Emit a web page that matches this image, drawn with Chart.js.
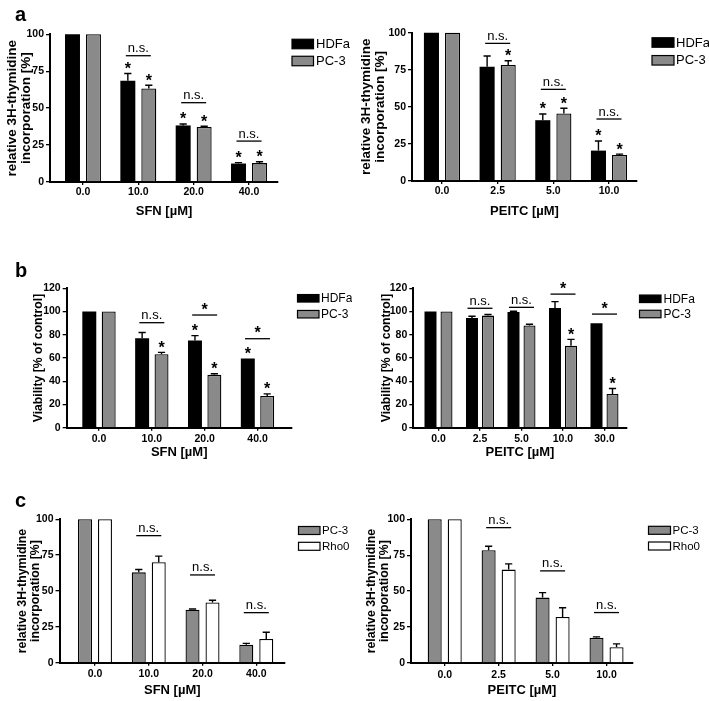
<!DOCTYPE html>
<html>
<head>
<meta charset="utf-8">
<script src="https://cdn.jsdelivr.net/npm/chart.js@4.4.1/dist/chart.umd.min.js"></script>
<style>
html,body{margin:0;padding:0;background:#fff;width:709px;height:701px;overflow:hidden;position:relative;}
.lbl{position:absolute;font:bold 20px "Liberation Sans",Arial,Helvetica,sans-serif;line-height:20px;color:#000;}
</style>
</head>
<body>
<script>
// ---------------- DATA ----------------
const sfnDoses = ['0.0', '10.0', '20.0', '40.0'];
const peitcDoses = ['0.0', '2.5', '5.0', '10.0'];
const peitcDosesViab = ['0.0', '2.5', '5.0', '10.0', '30.0'];

// panel a (left): SFN, 3H-thymidine incorporation
const aSfnHDFa = [100, 68.5, 38.3, 12.5];
const aSfnHDFaErr = [0, 5, 1, 0.6];
const aSfnPC3 = [100, 63.3, 37.2, 12.8];
const aSfnPC3Err = [0, 2.2, 0.5, 0.9];
const aSfnHDFaStar = [0, 1, 1, 1];
const aSfnPC3Star = [0, 1, 1, 1];
const aSfnSig = ['', 'n.s.', 'n.s.', 'n.s.'];
const aSfnSigLevel = [null, 85.5, 53.7, 27.7];

// panel a (right): PEITC, 3H-thymidine incorporation
const aPeitcHDFa = [100, 77, 41, 20.5];
const aPeitcHDFaErr = [0, 7.3, 4.2, 6.5];
const aPeitcPC3 = [100, 78.3, 45.5, 17.5];
const aPeitcPC3Err = [0, 2.8, 3.6, 0.6];
const aPeitcHDFaStar = [0, 0, 1, 1];
const aPeitcPC3Star = [0, 1, 1, 1];
const aPeitcSig = ['', 'n.s.', 'n.s.', 'n.s.'];
const aPeitcSigLevel = [null, 92.8, 61.8, 41.8];

// panel b (left): SFN, viability
const bSfnHDFa = [100, 77, 75, 59.5];
const bSfnHDFaErr = [0, 5, 4.3, 0];
const bSfnPC3 = [100, 63.3, 45.5, 27.3];
const bSfnPC3Err = [0, 1.5, 1, 1.8];
const bSfnHDFaStar = [0, 0, 1, 1];
const bSfnPC3Star = [0, 1, 1, 1];
const bSfnSig = ['', 'n.s.', '*', '*'];
const bSfnSigLevel = [null, 90.4, 97, 76.6];

// panel b (right): PEITC, viability
const bPeitcHDFa = [100, 94.5, 99.5, 103, 90];
const bPeitcHDFaErr = [0, 1.5, 0.7, 5.5, 0];
const bPeitcPC3 = [100, 96.5, 88, 70.5, 29];
const bPeitcPC3Err = [0, 1, 1, 5.5, 4.8];
const bPeitcHDFaStar = [0, 0, 0, 0, 0];
const bPeitcPC3Star = [0, 0, 0, 1, 1];
const bPeitcSig = ['', 'n.s.', 'n.s.', '*', '*'];
const bPeitcSigLevel = [null, 102.8, 103.6, 115, 97.8];

// panel c (left): SFN, PC-3 vs Rho0
const cSfnPC3 = [100, 63, 37, 12.5];
const cSfnPC3Err = [0, 2, 0.5, 1];
const cSfnRho0 = [100, 70, 42, 16.5];
const cSfnRho0Err = [0, 4.3, 1.5, 4.7];
const cSfnSig = ['', 'n.s.', 'n.s.', 'n.s.'];
const cSfnSigLevel = [null, 88.6, 61.2, 34.9];

// panel c (right): PEITC, PC-3 vs Rho0
const cPeitcPC3 = [100, 78.5, 45.5, 17.5];
const cPeitcPC3Err = [0, 2.7, 3.5, 0.7];
const cPeitcRho0 = [100, 65, 32, 11];
const cPeitcRho0Err = [0, 4, 6.5, 2.3];
const cPeitcSig = ['', 'n.s.', 'n.s.', 'n.s.'];
const cPeitcSigLevel = [null, 94.2, 64.1, 35.1];

const noStar = [0, 0, 0, 0, 0];

// ---------------- STYLE / LAYOUT ----------------
const FONT = '"Liberation Sans", Arial, Helvetica, sans-serif';
const BLACK = '#000000', GREY = '#8a8a8a', WHITE = '#ffffff';
const thymTitle = ['relative 3H-thymidine', 'incorporation [%]'];
const viabTitle = 'Viability [% of control]';
const TICK = 10.5;

Chart.defaults.font.family = FONT;
Chart.defaults.color = '#000';

function centeredText(ctx, txt, x, cyc) {
  const m = ctx.measureText(txt);
  const base = cyc + (m.actualBoundingBoxAscent - m.actualBoundingBoxDescent) / 2;
  ctx.textAlign = 'center';
  ctx.textBaseline = 'alphabetic';
  ctx.fillText(txt, x, base);
}

const annotPlugin = {
  id: 'annot',
  afterDatasetsDraw(chart, args, o) {
    const ctx = chart.ctx;
    const ys = chart.scales.y, xs = chart.scales.x;
    ctx.save();
    ctx.strokeStyle = '#000';
    ctx.fillStyle = '#000';
    // error bars (upper only) and asterisks
    o.series.forEach((s, di) => {
      const meta = chart.getDatasetMeta(di);
      meta.data.forEach((bar, i) => {
        const v = s.values[i], e = s.errors[i];
        const topPx = ys.getPixelForValue(v + e);
        if (e > 0) {
          const vPx = ys.getPixelForValue(v);
          ctx.lineWidth = 1.4;
          ctx.beginPath();
          ctx.moveTo(bar.x, vPx);
          ctx.lineTo(bar.x, topPx);
          ctx.moveTo(bar.x - 3.6, topPx);
          ctx.lineTo(bar.x + 3.6, topPx);
          ctx.stroke();
        }
        if (s.stars[i]) {
          ctx.font = 'bold 16px ' + FONT;
          centeredText(ctx, '*', bar.x, topPx - 8);
        }
      });
    });
    // significance brackets
    o.sig.forEach((lab, i) => {
      if (!lab) return;
      const xc = xs.getPixelForValue(i);
      const ly = ys.getPixelForValue(o.sigLevel[i]);
      ctx.lineWidth = 1.3;
      ctx.beginPath();
      ctx.moveTo(xc - 12.5, ly);
      ctx.lineTo(xc + 12.5, ly);
      ctx.stroke();
      if (lab === '*') {
        ctx.font = 'bold 16px ' + FONT;
        centeredText(ctx, '*', xc, ly - 9);
      } else {
        ctx.font = '13px ' + FONT;
        centeredText(ctx, lab, xc, ly - 7);
      }
    });
    // legend
    const L = o.legend;
    o.series.forEach((s, di) => {
      const cyc = L.y + di * L.dy;
      ctx.fillStyle = s.color;
      ctx.fillRect(L.x, cyc - L.boxH / 2, L.boxW, L.boxH);
      ctx.lineWidth = 1.2;
      ctx.strokeStyle = '#000';
      ctx.strokeRect(L.x, cyc - L.boxH / 2, L.boxW, L.boxH);
      ctx.fillStyle = '#000';
      ctx.font = L.size + 'px ' + FONT;
      ctx.textAlign = 'left';
      ctx.textBaseline = 'middle';
      ctx.fillText(s.label, L.textX, cyc + 0.5);
    });
    ctx.restore();
  }
};

function build(p) {
  const [cx, cy, cw, ch] = p.rect;
  const [l, r, t, b] = p.area;
  const cv = document.createElement('canvas');
  cv.width = cw; cv.height = ch;
  cv.style.cssText = `position:absolute;left:${cx}px;top:${cy}px;width:${cw}px;height:${ch}px;`;
  document.body.appendChild(cv);
  const yLH = 1.05;
  const yPadTop = p.yTitleCx - cx - p.yTitleSize * yLH / 2;
  const xPadBottom = (cy + ch) - p.xTitleCy - p.xTitleSize * 1.2 / 2;
  const legendLocal = {
    x: p.legend.x - cx, y: p.legend.y - cy, dy: p.legend.dy,
    boxW: p.legend.boxW, boxH: p.legend.boxH, textX: p.legend.textX - cx, size: p.legend.size
  };
  new Chart(cv, {
    type: 'bar',
    data: {
      datasets: p.series.map(s => ({
        label: s.label,
        data: s.values.map((v, i) => ({ x: i, y: v })),
        backgroundColor: s.color,
        borderColor: '#000',
        borderWidth: s.color === BLACK ? 0 : 1.3,
        categoryPercentage: p.cp,
        barPercentage: p.bp,
        clip: false
      }))
    },
    options: {
      responsive: false,
      animation: false,
      events: [],
      layout: { padding: { left: 0, top: t - cy, right: cx + cw - r, bottom: 0 } },
      plugins: {
        legend: { display: false },
        tooltip: { enabled: false },
        annot: { series: p.series, sig: p.sig, sigLevel: p.sigLevel, legend: legendLocal }
      },
      scales: {
        x: {
          type: 'linear',
          min: p.xRange[0], max: p.xRange[1],
          bounds: 'data',
          offset: false,
          afterBuildTicks: sc => { sc.ticks = p.cats.map((c, i) => ({ value: i })); },
          afterFit: sc => { sc.height = cy + ch - b; },
          grid: { display: true, drawOnChartArea: false, drawTicks: true, tickLength: 3, offset: false, color: '#000', lineWidth: 1.3 },
          border: { display: true, color: '#000', width: 2 },
          ticks: {
            autoSkip: false, maxRotation: 0, padding: p.xTickPad,
            font: { family: FONT, size: TICK, weight: 'bold' },
            callback: v => p.cats[v]
          },
          title: { display: true, text: p.xTitle, font: { family: FONT, size: p.xTitleSize, weight: 'bold', lineHeight: 1.2 }, padding: { top: 0, bottom: xPadBottom } }
        },
        y: {
          type: 'linear',
          min: 0, max: p.yMax,
          afterFit: sc => { sc.width = l - cx; },
          grid: { display: true, drawOnChartArea: false, drawTicks: true, tickLength: 4, color: '#000', lineWidth: 1.3 },
          border: { display: true, color: '#000', width: 2 },
          ticks: { stepSize: p.yStep, padding: 2, font: { family: FONT, size: TICK, weight: 'bold' } },
          title: { display: true, text: p.yTitle, font: { family: FONT, size: p.yTitleSize, weight: 'bold', lineHeight: yLH }, padding: { top: yPadTop, bottom: 0 } }
        }
      }
    },
    plugins: [annotPlugin]
  });
}

// ---------------- PANELS ----------------
build({
  rect: [0, 22, 352, 200], area: [50, 278, 34.3, 182],
  cats: sfnDoses, xRange: [-0.596, 3.524], cp: 0.758, bp: 0.714, xTickPad: 0.5,
  yMax: 100, yStep: 25,
  series: [
    { label: 'HDFa', values: aSfnHDFa, errors: aSfnHDFaErr, stars: aSfnHDFaStar, color: BLACK },
    { label: 'PC-3', values: aSfnPC3, errors: aSfnPC3Err, stars: aSfnPC3Star, color: GREY }
  ],
  sig: aSfnSig, sigLevel: aSfnSigLevel,
  yTitle: thymTitle, yTitleSize: 13.5, yTitleCx: 12,
  xTitle: 'SFN [µM]', xTitleSize: 13, xTitleCy: 211,
  legend: { x: 292, y: 44, dy: 17, boxW: 21.5, boxH: 9.5, textX: 316, size: 13 }
});
build({
  rect: [352, 22, 357, 200], area: [412, 637, 32.7, 181],
  cats: peitcDoses, xRange: [-0.539, 3.503], cp: 0.758, bp: 0.714, xTickPad: 0.5,
  yMax: 100, yStep: 25,
  series: [
    { label: 'HDFa', values: aPeitcHDFa, errors: aPeitcHDFaErr, stars: aPeitcHDFaStar, color: BLACK },
    { label: 'PC-3', values: aPeitcPC3, errors: aPeitcPC3Err, stars: aPeitcPC3Star, color: GREY }
  ],
  sig: aPeitcSig, sigLevel: aPeitcSigLevel,
  yTitle: thymTitle, yTitleSize: 13.5, yTitleCx: 366,
  xTitle: 'PEITC [µM]', xTitleSize: 13, xTitleCy: 211,
  legend: { x: 652, y: 42.5, dy: 17.8, boxW: 22, boxH: 9.5, textX: 676, size: 13 }
});
build({
  rect: [0, 270, 352, 195], area: [66.7, 291.7, 288.3, 427.7],
  cats: sfnDoses, xRange: [-0.611, 3.647], cp: 0.734, bp: 0.72, xTickPad: 2.5,
  yMax: 120, yStep: 20,
  series: [
    { label: 'HDFa', values: bSfnHDFa, errors: bSfnHDFaErr, stars: bSfnHDFaStar, color: BLACK },
    { label: 'PC-3', values: bSfnPC3, errors: bSfnPC3Err, stars: bSfnPC3Star, color: GREY }
  ],
  sig: bSfnSig, sigLevel: bSfnSigLevel,
  yTitle: viabTitle, yTitleSize: 12.2, yTitleCx: 38.5,
  xTitle: 'SFN [µM]', xTitleSize: 13, xTitleCy: 452,
  legend: { x: 297.5, y: 298.3, dy: 15.9, boxW: 21.5, boxH: 7.5, textX: 321, size: 12 }
});
build({
  rect: [352, 270, 357, 195], area: [413.3, 626.7, 288.3, 427.7],
  cats: peitcDosesViab, xRange: [-0.607, 4.535], cp: 0.771, bp: 0.75, xTickPad: 2.5,
  yMax: 120, yStep: 20,
  series: [
    { label: 'HDFa', values: bPeitcHDFa, errors: bPeitcHDFaErr, stars: bPeitcHDFaStar, color: BLACK },
    { label: 'PC-3', values: bPeitcPC3, errors: bPeitcPC3Err, stars: bPeitcPC3Star, color: GREY }
  ],
  sig: bPeitcSig, sigLevel: bPeitcSigLevel,
  yTitle: viabTitle, yTitleSize: 12.2, yTitleCx: 386.7,
  xTitle: 'PEITC [µM]', xTitleSize: 13, xTitleCy: 452,
  legend: { x: 639.5, y: 298.8, dy: 15.2, boxW: 21.5, boxH: 7.5, textX: 663.5, size: 12 }
});
build({
  rect: [0, 505, 352, 196], area: [59.5, 285, 519.3, 662.7],
  cats: sfnDoses, xRange: [-0.66, 3.534], cp: 0.743, bp: 0.7, xTickPad: 2.5,
  yMax: 100, yStep: 25,
  series: [
    { label: 'PC-3', values: cSfnPC3, errors: cSfnPC3Err, stars: noStar, color: GREY },
    { label: 'Rho0', values: cSfnRho0, errors: cSfnRho0Err, stars: noStar, color: WHITE }
  ],
  sig: cSfnSig, sigLevel: cSfnSigLevel,
  yTitle: thymTitle, yTitleSize: 12.3, yTitleCx: 22.5,
  xTitle: 'SFN [µM]', xTitleSize: 13, xTitleCy: 690,
  legend: { x: 298.5, y: 530.5, dy: 15.8, boxW: 21.5, boxH: 8, textX: 322, size: 11.5 }
});
build({
  rect: [352, 505, 357, 196], area: [411, 633, 519.3, 663],
  cats: peitcDoses, xRange: [-0.625, 3.491], cp: 0.743, bp: 0.7, xTickPad: 2.5,
  yMax: 100, yStep: 25,
  series: [
    { label: 'PC-3', values: cPeitcPC3, errors: cPeitcPC3Err, stars: noStar, color: GREY },
    { label: 'Rho0', values: cPeitcRho0, errors: cPeitcRho0Err, stars: noStar, color: WHITE }
  ],
  sig: cPeitcSig, sigLevel: cPeitcSigLevel,
  yTitle: thymTitle, yTitleSize: 12.3, yTitleCx: 371.5,
  xTitle: 'PEITC [µM]', xTitleSize: 13, xTitleCy: 690,
  legend: { x: 648.5, y: 530.3, dy: 15.7, boxW: 22, boxH: 8, textX: 672.5, size: 11.5 }
});

// panel letters
[['a', 15, 4], ['b', 15, 260], ['c', 15, 490]].forEach(([t, x, y]) => {
  const d = document.createElement('div');
  d.className = 'lbl';
  d.style.left = x + 'px';
  d.style.top = y + 'px';
  d.textContent = t;
  document.body.appendChild(d);
});
</script>
</body>
</html>
